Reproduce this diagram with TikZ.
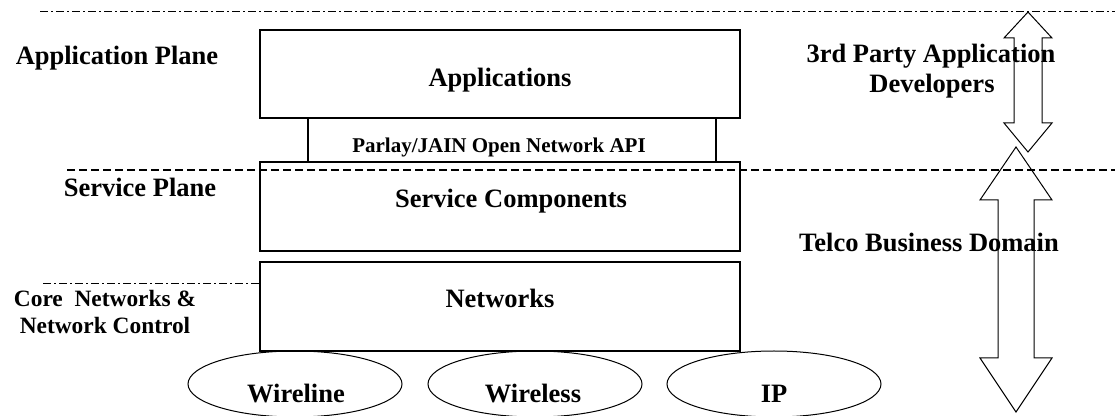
\documentclass[tikz,border=0pt]{standalone}
\usepackage{fontspec}
\setmainfont{Liberation Serif}
\usetikzlibrary{shapes.geometric,positioning}

\begin{document}
\begin{tikzpicture}[
    x=0.5pt, y=-0.5pt,
    layerbox/.style={rectangle, draw, line width=0.7pt, inner sep=0pt, outer sep=0pt},
    netnode/.style={ellipse, draw, line width=0.5pt, minimum width=107pt, minimum height=33pt, inner sep=0pt, outer sep=0pt},
    lbl/.style={anchor=base, inner sep=0pt, font=\fontsize{13.25}{15}\selectfont\bfseries},
    apilbl/.style={lbl, font=\fontsize{10.5}{12}\selectfont\bfseries},
    corelbl/.style={lbl, font=\fontsize{11.7}{13.5}\selectfont\bfseries},
    planeline/.style={dash pattern=on 4pt off 2pt, line width=0.65pt},
    dotline/.style={dash pattern=on 4pt off 1.5pt on 1pt off 1.5pt, line width=0.5pt},
    bigarrow/.style={draw, line width=0.5pt, line join=miter}
]
    \useasboundingbox (0,0) rectangle (1115,416);

    % layer boxes
    \node[layerbox, minimum width=240pt, minimum height=44pt] (apps) at (500,74) {};
    \node[layerbox, minimum width=204pt, minimum height=22pt] (api) at (512,140) {};
    \node[layerbox, minimum width=240pt, minimum height=44.5pt] (svc) at (500,206.5) {};
    \node[layerbox, minimum width=240pt, minimum height=44.5pt] (nets) at (500,306.5) {};

    \node[lbl] (appsT) at (500,87) {Applications};
    \node[apilbl] (apiT) at (499,153) {Parlay/JAIN Open Network API};
    \node[lbl] (svcT) at (511,208) {Service Components};
    \node[lbl] (netsT) at (500,308) {Networks};

    % access networks
    \node[netnode] (wire) at (295,384) {};
    \node[netnode] (wless) at (535,384) {};
    \node[netnode] (ip) at (774,384) {};
    \node[lbl] (wireT) at (296,403) {Wireline};
    \node[lbl] (wlessT) at (533,403) {Wireless};
    \node[lbl] (ipT) at (774,403) {IP};

    % plane boundaries
    \coordinate (topL) at (40,12);
    \coordinate (topR) at (1115,12);
    \coordinate (midL) at (67,170);
    \coordinate (midR) at (1115,170);
    \coordinate (coreL) at (43,284);
    \draw[dotline] (topL) -- (topR);
    \draw[planeline] (midL) -- (midR);
    \draw[dotline] (coreL) -- (coreL -| nets.west);

    % plane labels
    \node[lbl] (appPlane) at (117,65) {Application Plane};
    \node[lbl] (svcPlane) at (140,197) {Service Plane};
    \node[corelbl] (core1) at (105,307) {Core~ Networks \&};
    \node[corelbl] (core2) at (105,334) {Network Control};

    % business domains
    \draw[bigarrow] (1028,12) -- (1052,38) -- (1042,38) -- (1042,123) -- (1052,123)
        -- (1028,152) -- (1004,123) -- (1014,123) -- (1014,38) -- (1004,38) -- cycle;
    \draw[bigarrow] (1016,147) -- (1052,200) -- (1034,200) -- (1034,358) -- (1052,358)
        -- (1016,412) -- (980,358) -- (998,358) -- (998,200) -- (980,200) -- cycle;

    \node[lbl] (party1) at (931,63) {3rd Party Application};
    \node[lbl] (party2) at (932,93) {Developers};
    \node[lbl] (telco) at (929,252) {Telco Business Domain};
\end{tikzpicture}
\end{document}
